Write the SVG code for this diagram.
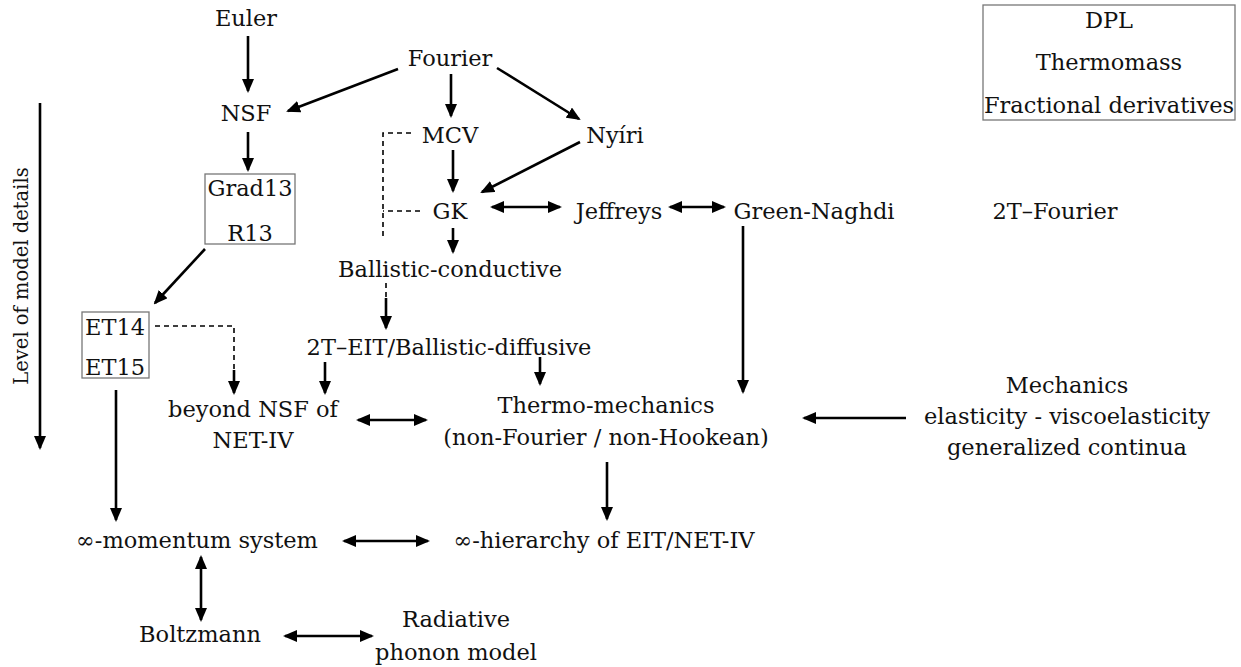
<svg xmlns="http://www.w3.org/2000/svg" width="1241" height="667" viewBox="0 0 1241 667" font-family="'DejaVu Serif', 'Liberation Serif', serif">
<style>
text{font-size:22.5px;fill:#111;text-anchor:middle}
.ax{font-size:19.5px}
.a{stroke:#000;stroke-width:2.6;fill:none}
.d{stroke:#000;stroke-width:1.6;fill:none;stroke-dasharray:5,4}
.b{fill:none;stroke:#777;stroke-width:1.3}
</style>
<defs>
<marker id="h" viewBox="0 0 14 12" refX="12" refY="6" markerWidth="14" markerHeight="12" markerUnits="userSpaceOnUse" orient="auto-start-reverse">
<path d="M0,0 L14,6 L0,12 z" fill="#000"/>
</marker>
</defs>
<rect width="1241" height="667" fill="#fff"/>
<g id="connectors">
<line class="a" x1="248" y1="36" x2="248" y2="91" marker-end="url(#h)"/>
<line class="a" x1="398" y1="69" x2="288" y2="111" marker-end="url(#h)"/>
<line class="a" x1="451" y1="74" x2="451" y2="116" marker-end="url(#h)"/>
<line class="a" x1="497" y1="68" x2="579" y2="119" marker-end="url(#h)"/>
<line class="a" x1="248" y1="132" x2="248" y2="170" marker-end="url(#h)"/>
<line class="a" x1="453" y1="150" x2="453" y2="191" marker-end="url(#h)"/>
<line class="a" x1="580" y1="142" x2="482" y2="192" marker-end="url(#h)"/>
<line class="a" x1="492" y1="207" x2="560" y2="207" marker-start="url(#h)" marker-end="url(#h)"/>
<line class="a" x1="670" y1="207" x2="724" y2="207" marker-start="url(#h)" marker-end="url(#h)"/>
<line class="a" x1="453" y1="228" x2="453" y2="252" marker-end="url(#h)"/>
<line class="a" x1="743" y1="226" x2="743" y2="392" marker-end="url(#h)"/>
<line class="a" x1="205" y1="249" x2="155" y2="303" marker-end="url(#h)"/>
<path class="d" d="M411,133 H383 V240"/>
<path class="d" d="M420,211 H383"/>
<line class="d" x1="386" y1="283" x2="386" y2="298"/>
<line class="a" x1="386" y1="298" x2="386" y2="328" marker-end="url(#h)"/>
<path class="d" d="M155,326 H234 V370"/>
<line class="a" x1="234" y1="370" x2="234" y2="393" marker-end="url(#h)"/>
<line class="a" x1="325" y1="362" x2="325" y2="393" marker-end="url(#h)"/>
<line class="a" x1="540" y1="357" x2="540" y2="384" marker-end="url(#h)"/>
<line class="a" x1="358" y1="420" x2="426" y2="420" marker-start="url(#h)" marker-end="url(#h)"/>
<line class="a" x1="906" y1="418" x2="804" y2="418" marker-end="url(#h)"/>
<line class="a" x1="116" y1="390" x2="116" y2="520" marker-end="url(#h)"/>
<line class="a" x1="607" y1="462" x2="607" y2="519" marker-end="url(#h)"/>
<line class="a" x1="344" y1="541" x2="428" y2="541" marker-start="url(#h)" marker-end="url(#h)"/>
<line class="a" x1="201" y1="557" x2="201" y2="620" marker-start="url(#h)" marker-end="url(#h)"/>
<line class="a" x1="285" y1="636" x2="372" y2="636" marker-start="url(#h)" marker-end="url(#h)"/>
<line class="a" x1="40" y1="103" x2="40" y2="448" marker-end="url(#h)"/>
</g>
<g id="axis"><text class="ax" transform="translate(28,276) rotate(-90)">Level of model details</text></g>
<g id="euler"><text x="246" y="26">Euler</text></g>
<g id="fourier"><text x="450" y="66">Fourier</text></g>
<g id="nsf"><text x="246" y="121">NSF</text></g>
<g id="mcv"><text x="450" y="143">MCV</text></g>
<g id="nyiri"><text x="615" y="143">Nyíri</text></g>
<g id="grad13"><rect class="b" x="205" y="174" width="90" height="70"/><text x="250" y="196">Grad13</text><text x="250" y="241">R13</text></g>
<g id="gk"><text x="450" y="219">GK</text></g>
<g id="jeffreys"><text x="619" y="219">Jeffreys</text></g>
<g id="greennaghdi"><text x="814" y="219">Green-Naghdi</text></g>
<g id="twotfourier"><text x="1055" y="219">2T–Fourier</text></g>
<g id="ballcond"><text x="450" y="277">Ballistic-conductive</text></g>
<g id="et"><rect class="b" x="82" y="312" width="67" height="66"/><text x="115" y="335">ET14</text><text x="115" y="375">ET15</text></g>
<g id="twoteit"><text x="449" y="355">2T–EIT/Ballistic-diffusive</text></g>
<g id="beyond"><text x="253" y="417">beyond NSF of</text><text x="253" y="448">NET-IV</text></g>
<g id="thermomech"><text x="606" y="413">Thermo-mechanics</text><text x="606" y="445">(non-Fourier / non-Hookean)</text></g>
<g id="mechanics"><text x="1067" y="393">Mechanics</text><text x="1067" y="424">elasticity - viscoelasticity</text><text x="1067" y="455">generalized continua</text></g>
<g id="infmom"><text x="197" y="548">∞-momentum system</text></g>
<g id="infhier"><text x="604" y="548">∞-hierarchy of EIT/NET-IV</text></g>
<g id="boltzmann"><text x="200" y="642">Boltzmann</text></g>
<g id="radiative"><text x="456" y="627">Radiative</text><text x="456" y="660">phonon model</text></g>
<g id="others"><rect class="b" x="983" y="5" width="252" height="115"/><text x="1109" y="28">DPL</text><text x="1109" y="70">Thermomass</text><text x="1109" y="113">Fractional derivatives</text></g>
</svg>
